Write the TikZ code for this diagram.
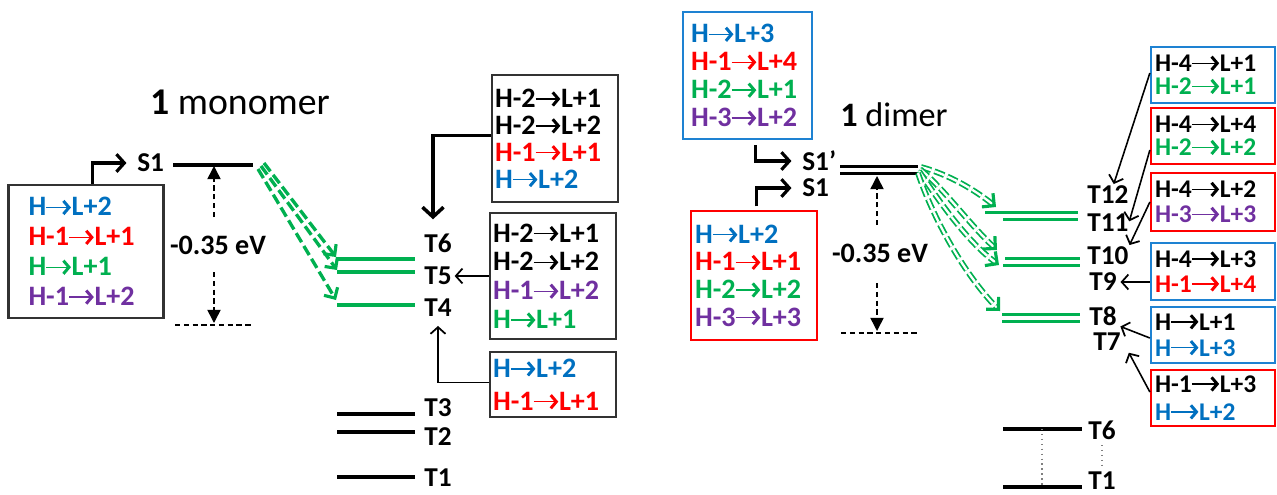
\documentclass[tikz,border=0pt]{standalone}
\usepackage{fontspec}
\setmainfont{Carlito}
\usetikzlibrary{arrows.meta,calc}

\definecolor{hblue}{RGB}{0,112,192}
\definecolor{hred}{RGB}{255,0,0}
\definecolor{hgreen}{RGB}{0,176,80}
\definecolor{hpurple}{RGB}{112,48,160}
\definecolor{frameblue}{RGB}{30,130,210}
\definecolor{lvlgreen}{RGB}{0,176,80}
\definecolor{framegray}{RGB}{50,50,50}

% arrow between two orbitals, drawn in the colour of the surrounding text
\newlength{\arlen}
\setlength{\arlen}{14pt}
\newcommand{\orbarrow}{\tikz[baseline={(0pt,-4.8pt)},x=1pt,y=1pt]
  \draw[line width=0.75pt,-{Straight Barb[length=3.2pt,width=7.5pt,line width=1.7pt]}] (0,0) -- (\arlen,0);}
% one excitation, e.g. H-1 -> L+1, in one colour
\newcommand{\exc}[3]{\textcolor{#1}{#2\kern-0.3pt\orbarrow\kern-0.3pt#3}}

\tikzset{
  lab/.style={font=\fontsize{15.5}{18}\selectfont\bfseries, inner sep=0pt},
  title/.style={font=\fontsize{#1}{24}\selectfont, inner sep=0pt},
  gap/.style={font=\fontsize{16}{18}\selectfont\bfseries, inner sep=0pt},
  tbox/.style={draw=framegray, line width=1.3pt, align=left, inner ysep=0pt,
    font=\fontsize{16}{#1}\selectfont\bfseries},
  sbox/.style={draw, line width=1.3pt, align=left, inner ysep=0pt,
    font=\fontsize{14.5}{#1}\selectfont\bfseries\setlength{\arlen}{15.5pt}},
  level/.style={line width=2.2pt, black},
  glevel/.style={line width=2.1pt, lvlgreen},
  gpair/.style={line width=1.8pt, lvlgreen},
  bent/.style={line width=1.8pt, -{Straight Barb[length=4.5pt,width=10pt,line width=1.8pt]}},
  bigdown/.style={line width=2pt, -{Straight Barb[length=5.5pt,width=12pt,line width=2pt]}},
  thinarr/.style={line width=0.9pt, -{Straight Barb[length=3.8pt,width=8.5pt,line width=1pt]}},
  measure/.style={line width=0.9pt, dash pattern=on 3pt off 2pt, -{Triangle[length=7.5pt,width=7.5pt]}},
  zeroline/.style={line width=0.9pt, dash pattern=on 3pt off 2pt},
  gdash/.style={lvlgreen, line width=1.9pt, dash pattern=on 6pt off 2.5pt,
    -{Straight Barb[length=4.5pt,width=9pt,line width=1.8pt]}},
  gdouble/.style={lvlgreen, line width=1pt, double=white, double distance=1.3pt,
    dash pattern=on 6pt off 2pt, -{Straight Barb[length=5pt,width=10pt,line width=1.8pt]}},
}

\begin{document}
\begin{tikzpicture}[x=0.02cm, y=-0.02cm]
\useasboundingbox (0,0) rectangle (1277,494);
\fill[white] (0,0) rectangle (1277,494);

%================ monomer ================
\node[title=21.5] (mTitle) at (240,102) {\textbf{1} monomer};

% singlet and its transitions
\node[lab, anchor=west] (mS1) at (137,163) {S1};
\draw[level] (173,165) -- (253,165);
\node[tbox=17pt, text width=2.30cm, inner xsep=0.40cm, minimum height=2.66cm] (mL) at (86,251.5)
  {\exc{hblue}{H}{L+2}\\ \exc{hred}{H-1}{L+1}\\ \exc{hgreen}{H}{L+1}\\ \exc{hpurple}{H-1}{L+2}};
\draw[bent, shorten >=6pt] ($(mL.north west)+(85,0)$) |- (mS1.west);

% energy gap
\node[gap] (mGap) at (218,245) {-0.35 eV};
\draw[measure] (214,217) -- (214,166);
\draw[measure] (214,272) -- (214,323);
\draw[zeroline] (175,325) -- (253,325);

% triplet levels
\node[lab, anchor=west] (mT6) at (424,243) {T6};
\node[lab, anchor=west] (mT5) at (424,276) {T5};
\node[lab, anchor=west] (mT4) at (424,308) {T4};
\node[lab, anchor=west] (mT3) at (424,408) {T3};
\node[lab, anchor=west] (mT2) at (424,437) {T2};
\node[lab, anchor=west] (mT1) at (424,478) {T1};
\draw[glevel] (337,259) -- (415,259);
\draw[glevel] (337,272) -- (415,272);
\draw[glevel] (337,305) -- (415,305);
\draw[level] (337,414) -- (415,414);
\draw[level] (337,432) -- (415,432);
\draw[level] (337,477) -- (415,477);

% intersystem crossing
\draw[gdash] (264,163) -- (336,257);
\draw[gdash] (261,166) -- (337,270);
\draw[gdash] (258,169) -- (336,300);

% triplet character boxes
\node[tbox=15.3pt, text width=2.40cm, inner xsep=0.06cm, minimum height=2.54cm] (mB1) at (555,138.5)
  {\exc{black}{H-2}{L+1}\\ \exc{black}{H-2}{L+2}\\ \exc{hred}{H-1}{L+1}\\ \exc{hblue}{H}{L+2}};
\node[tbox=16.4pt, text width=2.40cm, inner xsep=0.06cm, minimum height=2.52cm] (mB2) at (553,276)
  {\exc{black}{H-2}{L+1}\\ \exc{black}{H-2}{L+2}\\ \exc{hpurple}{H-1}{L+2}\\ \exc{hgreen}{H}{L+1}};
\node[tbox=18.7pt, text width=2.40cm, inner xsep=0.06cm, minimum height=1.3cm] (mB3) at (553,384.5)
  {\exc{hblue}{H}{L+2}\\ \exc{hred}{H-1}{L+1}};

\draw[bigdown] ($(mB1.west)+(0,-3)$) -| ([xshift=-0.1cm,yshift=0.28cm]mT6.north);
\draw[thinarr, shorten >=1.5pt] (mB2.west) -- (mT5.east);
\draw[thinarr, shorten >=5pt] ($(mB3.west)+(0,-2)$) -| (mT4.south);

%================ dimer ================
\node[title=19.5] (dTitle) at (894,115) {\textbf{1} dimer};

\node[tbox=15.9pt, draw=frameblue, text width=2.26cm, inner xsep=0.16cm, minimum height=2.54cm] (dTop) at (747.5,75.5)
  {\exc{hblue}{H}{L+3}\\ \exc{hred}{H-1}{L+4}\\ \exc{hgreen}{H-2}{L+1}\\ \exc{hpurple}{H-3}{L+2}};
\node[tbox=15.7pt, draw=hred, text width=2.36cm, inner xsep=0.08cm, minimum height=2.58cm] (dBot) at (754,275.5)
  {\exc{hblue}{H}{L+2}\\ \exc{hred}{H-1}{L+1}\\ \exc{hgreen}{H-2}{L+2}\\ \exc{hpurple}{H-3}{L+3}};

\node[lab, anchor=west] (dS1p) at (802,161) {S1’};
\node[lab, anchor=west] (dS1) at (802,188) {S1};
\draw[bent, shorten <=3pt, shorten >=6pt] ($(dTop.south west)+(74,0)$) |- (dS1p.west);
\draw[bent, shorten <=2pt, shorten >=6pt] ($(dBot.north west)+(67,0)$) |- (dS1.west);

\draw[level, line width=1.7pt] (840,166.5) -- (918,166.5);
\draw[level, line width=1.7pt] (840,173.5) -- (918,173.5);

\node[gap] (dGap) at (880,253) {-0.35 eV};
\draw[measure] (877,225) -- (877,176);
\draw[measure] (877,283) -- (877,331);
\draw[zeroline] (841,333) -- (920,333);

% triplet pairs
\node[lab, anchor=west] (dT12) at (1087,195) {T12};
\node[lab, anchor=west] (dT11) at (1087,223) {T11};
\node[lab, anchor=west] (dT10) at (1087,256) {T10};
\node[lab, anchor=west] (dT9)  at (1089,282) {T9};
\node[lab, anchor=west] (dT8)  at (1089,316) {T8};
\node[lab, anchor=west] (dT7)  at (1093,342) {T7};
\node[lab, anchor=west] (dT6)  at (1088,430) {T6};
\node[lab, anchor=west] (dT1)  at (1088,481) {T1};

\draw[gpair] (985,212.5) -- (1078,212.5);
\draw[gpair] (1003,219.5) -- (1078,219.5);
\draw[gpair] (1005,258.5) -- (1080,258.5);
\draw[gpair] (1003,265.5) -- (1080,265.5);
\draw[gpair] (1002,314.5) -- (1080,314.5);
\draw[gpair] (1002,321.5) -- (1080,321.5);

\draw[level] (1003,429) -- (1082,429);
\draw[level] (1003,487) -- (1082,487);
\draw[gray, line width=0.8pt, dotted] (1042,429) -- (1042,487);
\draw[gray, line width=0.8pt, dotted] ([yshift=-3pt]dT6.south) -- ([yshift=3pt]dT1.north);

% intersystem crossing in the dimer
\draw[gdouble] (921,167) .. controls (950,175) and (975,190) .. (996,207);
\draw[gdouble] (920,169) .. controls (945,190) and (970,225) .. (997,250);
\draw[gdouble] (919,171) .. controls (935,195) and (965,240) .. (999,265);
\draw[gdouble] (918,173) .. controls (930,210) and (960,270) .. (1000,311);

% character boxes of the triplet pairs
\node[sbox=13.2pt, draw=frameblue, text width=2.32cm, inner xsep=0.08cm, minimum height=1.12cm] (r1) at (1213,75)
  {\exc{black}{H-4}{L+1}\\ \exc{hgreen}{H-2}{L+1}};
\node[sbox=13.2pt, draw=hred, text width=2.32cm, inner xsep=0.08cm, minimum height=1.12cm] (r2) at (1213,136)
  {\exc{black}{H-4}{L+4}\\ \exc{hgreen}{H-2}{L+2}};
\node[sbox=14.2pt, draw=hred, text width=2.32cm, inner xsep=0.08cm, minimum height=1.16cm] (r3) at (1213,202)
  {\exc{black}{H-4}{L+2}\\ \exc{hpurple}{H-3}{L+3}};
\node[sbox=14.2pt, draw=frameblue, text width=2.32cm, inner xsep=0.08cm, minimum height=1.14cm] (r4) at (1213,271.5)
  {\exc{black}{H-4}{L+3}\\ \exc{hred}{H-1}{L+4}};
\node[sbox=14.7pt, draw=frameblue, text width=2.32cm, inner xsep=0.08cm, minimum height=1.12cm] (r5) at (1213,335)
  {\exc{black}{H}{L+1}\\ \exc{hblue}{H}{L+3}};
\node[sbox=15.9pt, draw=hred, text width=2.32cm, inner xsep=0.08cm, minimum height=1.12cm] (r6) at (1213,398)
  {\exc{black}{H-1}{L+3}\\ \exc{hblue}{H}{L+2}};

\draw[thinarr, shorten >=1pt] ($(r1.west)+(0,-2)$) -- ([xshift=3pt]dT12.north);
\draw[thinarr, shorten >=1pt] ($(r2.west)+(0,14)$) -- (dT11.east);
\draw[thinarr, shorten >=1pt] (r3.west) -- (dT10.north east);
\draw[thinarr, shorten >=2pt] (r4.west |- dT9) -- (dT9.east);
\draw[thinarr, shorten >=1pt] ($(r5.west)+(0,3)$) -- ([xshift=1pt]dT8.south east);
\draw[thinarr, shorten >=1pt] ($(r6.west)+(0,-6)$) -- ([xshift=4pt]dT7.south east);
\end{tikzpicture}
\end{document}
